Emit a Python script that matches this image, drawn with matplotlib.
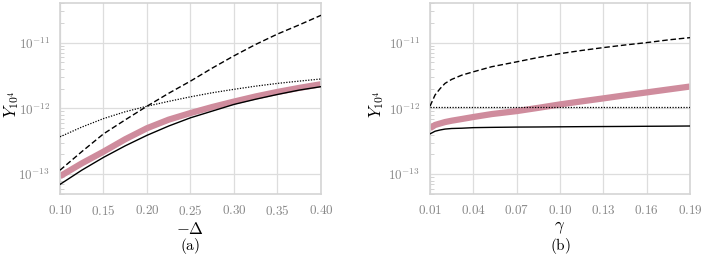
import numpy as np
import matplotlib.pyplot as plt
from matplotlib.ticker import FixedLocator, LogLocator, NullFormatter

plt.rcParams['mathtext.fontset'] = 'cm'
plt.rcParams['font.family'] = 'serif'
plt.rcParams['font.serif'] = ['DejaVu Serif']

# panel (a): Y vs -Delta
delta = [0.100, 0.125, 0.150, 0.175, 0.200, 0.225, 0.250,
         0.275, 0.300, 0.325, 0.350, 0.375, 0.400]
a_dashed = [1.15e-13, 2.2e-13, 4.1e-13, 6.7e-13, 1.08e-12, 1.7e-12, 2.6e-12,
            4.1e-12, 6.3e-12, 9.4e-12, 1.35e-11, 1.86e-11, 2.6e-11]
a_dotted = [3.7e-13, 5.2e-13, 7.0e-13, 8.9e-13, 1.08e-12, 1.28e-12, 1.5e-12,
            1.73e-12, 1.95e-12, 2.18e-12, 2.4e-12, 2.6e-12, 2.8e-12]
a_pink = [9.3e-14, 1.46e-13, 2.2e-13, 3.4e-13, 5.0e-13, 6.75e-13, 8.5e-13,
          1.05e-12, 1.27e-12, 1.52e-12, 1.78e-12, 2.05e-12, 2.33e-12]
a_solid = [7.0e-14, 1.15e-13, 1.8e-13, 2.7e-13, 3.9e-13, 5.4e-13, 7.2e-13,
           9.1e-13, 1.15e-12, 1.38e-12, 1.63e-12, 1.9e-12, 2.14e-12]

# panel (b): Y vs gamma
gamma = [0.010, 0.0135, 0.017, 0.0204, 0.025, 0.032, 0.040, 0.0527, 0.070,
         0.085, 0.100, 0.115, 0.130, 0.145, 0.160, 0.175, 0.190]
b_dashed = [1.08e-12, 1.6e-12, 2.0e-12, 2.4e-12, 2.76e-12, 3.2e-12, 3.6e-12,
            4.3e-12, 5.1e-12, 5.95e-12, 6.8e-12, 7.6e-12, 8.4e-12, 9.2e-12,
            1.0e-11, 1.1e-11, 1.19e-11]
b_dotted = [1.04e-12] * 17
b_pink = [5.0e-13, 5.6e-13, 5.9e-13, 6.2e-13, 6.5e-13, 6.9e-13, 7.4e-13,
          8.2e-13, 9.1e-13, 1.02e-12, 1.15e-12, 1.28e-12, 1.42e-12, 1.58e-12,
          1.75e-12, 1.94e-12, 2.15e-12]
b_solid = [4.1e-13, 4.5e-13, 4.7e-13, 4.85e-13, 4.95e-13, 5.0e-13, 5.1e-13,
           5.15e-13, 5.2e-13, 5.22e-13, 5.25e-13, 5.28e-13, 5.3e-13, 5.32e-13,
           5.35e-13, 5.37e-13, 5.4e-13]

a_ticks = [0.10, 0.15, 0.20, 0.25, 0.30, 0.35, 0.40]
b_ticks = [0.01, 0.04, 0.07, 0.10, 0.13, 0.16, 0.19]

pink = '#cf8c9d'
grey = '#888888'

fig = plt.figure(figsize=(7.06, 2.6), dpi=100)
ax1 = fig.add_axes([60/706, 66/260, 261/706, 191/260])
ax2 = fig.add_axes([430/706, 66/260, 260/706, 191/260])

panels = [
    (ax1, delta, a_dashed, a_dotted, a_pink, a_solid, a_ticks, r'$-\Delta$', 'a', -0.185),
    (ax2, gamma, b_dashed, b_dotted, b_pink, b_solid, b_ticks, r'$\gamma$', 'b', -0.205),
]

for ax, x, yd, ydot, yp, ys, ticks, xl, tag, ylx in panels:
    ax.plot(x, yp, color=pink, lw=4.5, solid_capstyle='butt', zorder=2)
    ax.plot(x, ys, color='black', lw=1.0, zorder=3)
    ax.plot(x, yd, color='black', lw=1.0, ls=(0, (4, 2)), zorder=3)
    ax.plot(x, ydot, color='black', lw=0.9, ls=(0, (1, 1.2)), zorder=3)
    ax.set_yscale('log')
    ax.set_ylim(5e-14, 4e-11)
    ax.set_xlim(ticks[0], ticks[-1])
    ax.xaxis.set_major_locator(FixedLocator(ticks))
    ax.set_xticklabels([r'$%.2f$' % t for t in ticks])
    ax.yaxis.set_major_locator(FixedLocator([1e-13, 1e-12, 1e-11]))
    ax.set_yticklabels([r'$10^{-13}$', r'$10^{-12}$', r'$10^{-11}$'])
    ax.yaxis.set_minor_locator(LogLocator(base=10, subs=np.arange(2, 10)))
    ax.yaxis.set_minor_formatter(NullFormatter())
    ax.tick_params(axis='both', which='major', length=0, labelsize=9.5,
                   labelcolor=grey, pad=7)
    ax.tick_params(axis='y', which='minor', direction='in', length=3,
                   width=0.6, color='#cccccc')
    ax.grid(True, which='major', color='#dddddd', lw=0.9)
    ax.set_axisbelow(True)
    for s in ax.spines.values():
        s.set_color('#d4d4d4')
        s.set_linewidth(1.2)
    ax.set_xlabel(xl, fontsize=12, labelpad=2)
    ax.set_ylabel(r'$Y_{10^4}$', fontsize=12, va='center')
    ax.yaxis.set_label_coords(ylx, 0.47)
    ax.text(0.5, -0.27, r'$\mathrm{(%s)}$' % tag, transform=ax.transAxes,
            ha='center', va='center', fontsize=11)

fig.savefig('out.png', dpi=100)
